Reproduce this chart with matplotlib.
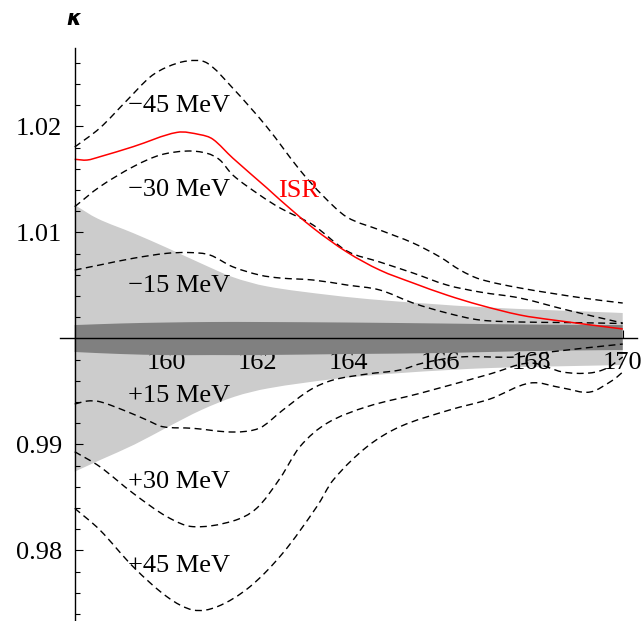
import matplotlib
matplotlib.use("Agg")
import matplotlib.pyplot as plt
from matplotlib.ticker import FixedLocator
from matplotlib.path import Path
from matplotlib.patches import PathPatch

# ---------------- data ----------------
m45_x = [158.0, 158.55, 159.15, 159.65, 160.02, 160.46, 160.90, 161.46, 162.21, 162.93,
         163.44, 163.96, 164.68, 165.41, 166.00, 166.44, 166.87, 167.75, 169.13, 170.0]
m45_y = [1.01805, 1.01984, 1.02248, 1.02465, 1.02559, 1.02616, 1.02597, 1.02361, 1.01993, 1.01588,
         1.01343, 1.01144, 1.01022, 1.00899, 1.00767, 1.00644, 1.00559, 1.00475, 1.00380, 1.00333]

isr_x = [158.0, 158.27, 158.55, 159.28, 160.24, 160.75, 161.03, 161.46, 162.21, 162.50,
         163.22, 163.96, 164.68, 165.41, 166.15, 166.87, 167.75, 168.47, 170.0]
isr_y = [1.01689, 1.01682, 1.01713, 1.01808, 1.01943, 1.01921, 1.01877, 1.01701, 1.01418, 1.01305,
         1.01041, 1.00814, 1.00644, 1.00522, 1.00408, 1.00314, 1.00220, 1.00173, 1.00088]

m30_x = [158.0, 158.55, 159.28, 159.87, 160.46, 160.90, 161.18, 161.46, 162.05, 162.50,
         163.22, 163.96, 164.68, 165.41, 166.15, 166.87, 167.75, 168.78, 170.0]
m30_y = [1.01242, 1.01430, 1.01619, 1.01729, 1.01767, 1.01745, 1.01682, 1.01541, 1.01352, 1.01229,
         1.01069, 1.00824, 1.00720, 1.00616, 1.00503, 1.00437, 1.00380, 1.00267, 1.00144]

m15_x = [158.0, 158.55, 159.28, 160.02, 160.53, 160.96, 161.46, 162.05, 162.50, 163.22,
         163.96, 164.68, 165.41, 166.15, 166.87, 167.75, 168.78, 170.0]
m15_y = [1.00644, 1.00692, 1.00755, 1.00802, 1.00809, 1.00786, 1.00675, 1.00597, 1.00569, 1.00550,
         1.00503, 1.00456, 1.00333, 1.00239, 1.00173, 1.00154, 1.00149, 1.00140]

p15_x = [158.0, 158.27, 158.55, 159.15, 159.58, 159.93, 160.59, 161.46, 162.05, 162.56,
         163.15, 163.66, 164.40, 165.12, 165.63, 166.43, 167.68, 168.40, 170.0]
p15_y = [0.99380, 0.99408, 0.99402, 0.99308, 0.99229, 0.99166, 0.99151, 0.99116, 0.99154, 0.99324,
         0.99512, 0.99607, 0.99663, 0.99701, 0.99767, 0.99824, 0.99824, 0.99871, 0.99946]

p30_x = [158.0, 158.55, 159.28, 160.02, 160.59, 161.46, 161.99, 162.50, 162.93, 163.52,
         164.40, 165.56, 167.09, 167.97, 168.69, 169.28, 169.66, 170.0]
p30_y = [0.98930, 0.98789, 0.98538, 0.98317, 0.98223, 0.98276, 0.98399, 0.98682, 0.98977, 0.99198,
         0.99355, 0.99481, 0.99663, 0.99767, 0.99682, 0.99673, 0.99720, 0.99824]

p45_x = [158.0, 158.55, 159.28, 160.02, 160.59, 161.12, 161.83, 162.56, 163.30, 163.66,
         164.40, 165.12, 166.21, 167.09, 167.97, 168.69, 169.28, 169.79, 170.0]
p45_y = [0.98396, 0.98192, 0.97845, 0.97562, 0.97437, 0.97468, 0.97654, 0.97975, 0.98411, 0.98663,
         0.98977, 0.99166, 0.99324, 0.99427, 0.99578, 0.99531, 0.99493, 0.99607, 0.99682]

light_top_x = [158.0, 158.5, 159.28, 160.03, 160.75, 161.46, 162.21, 163.59, 164.68, 166.87, 170.0]
light_top_y = [1.01258, 1.01130, 1.00993, 1.00852, 1.00710, 1.00578, 1.00490, 1.00408, 1.00361, 1.00295, 1.00239]
light_bot_x = [158.0, 158.59, 159.31, 160.05, 160.77, 161.50, 162.24, 163.68, 165.15, 167.12, 170.0]
light_bot_y = [0.98742, 0.98858, 0.98998, 0.99166, 0.99323, 0.99449, 0.99528, 0.99616, 0.99673, 0.99720, 0.99748]

dark_x = [158, 159, 160, 161, 162, 164, 166, 168, 170]
dark_top = [1.00125, 1.00140, 1.00149, 1.00154, 1.00154, 1.00149, 1.00140, 1.00130, 1.00125]
dark_bot = [0.99871, 0.99852, 0.99842, 0.99842, 0.99842, 0.99852, 0.99861, 0.99880, 0.99890]

x_ticks = [160, 162, 164, 166, 168, 170]
x_ticklabels = ["160", "162", "164", "166", "168", "170"]
x_minor = [158.5 + 0.5 * i for i in range(24)]
y_ticks = [0.98, 0.99, 1.01, 1.02]
y_ticklabels = ["0.98", "0.99", "1.01", "1.02"]
y_minor = [0.974 + 0.002 * i for i in range(27)]

curve_labels = ["\u221245 MeV", "\u221230 MeV", "\u221215 MeV", "+15 MeV", "+30 MeV", "+45 MeV"]


# ---------------- smooth rendering helpers (Hermite -> cubic Bezier path) ----------------
def _slopes(xs, ys):
    n = len(xs)
    m = []
    for i in range(n):
        a = max(i - 1, 0)
        b = min(i + 1, n - 1)
        m.append((ys[b] - ys[a]) / (xs[b] - xs[a]))
    return m


def bezier_segments(xs, ys):
    """Vertices/codes of a smooth curve passing through every (x, y) given."""
    m = _slopes(xs, ys)
    verts, codes = [], []
    for i in range(len(xs) - 1):
        h = xs[i + 1] - xs[i]
        verts += [(xs[i] + h / 3, ys[i] + m[i] * h / 3),
                  (xs[i + 1] - h / 3, ys[i + 1] - m[i + 1] * h / 3),
                  (xs[i + 1], ys[i + 1])]
        codes += [Path.CURVE4] * 3
    return verts, codes


def smooth_line(ax, xs, ys, **kw):
    v, c = bezier_segments(xs, ys)
    path = Path([(xs[0], ys[0])] + v, [Path.MOVETO] + c)
    ax.add_patch(PathPatch(path, fill=False, **kw))


def smooth_band(ax, tx, ty, bx, by, **kw):
    vt, ct = bezier_segments(tx, ty)
    vb, cb = bezier_segments(bx[::-1], by[::-1])
    verts = [(tx[0], ty[0])] + vt + [(bx[-1], by[-1])] + vb + [(tx[0], ty[0])]
    codes = [Path.MOVETO] + ct + [Path.LINETO] + cb + [Path.CLOSEPOLY]
    ax.add_patch(PathPatch(Path(verts, codes), **kw))


# ---------------- figure ----------------
SERIF = "Liberation Serif"
FS = 19

fig = plt.figure(figsize=(6.43, 6.21), dpi=100)
ax = fig.add_axes([0, 0, 1, 1])
ax.set_xlim(156.364, 170.444)
ax.set_ylim(0.97333, 1.03192)
ax.patch.set_alpha(0)

# bands
smooth_band(ax, light_top_x, light_top_y, light_bot_x, light_bot_y,
            facecolor="#cccccc", edgecolor="none", lw=0, zorder=1)
smooth_band(ax, dark_x, dark_top, dark_x, dark_bot,
            facecolor="#808080", edgecolor="none", lw=0, zorder=2)

for xs, ys in [(m45_x, m45_y), (m30_x, m30_y), (m15_x, m15_y),
               (p15_x, p15_y), (p30_x, p30_y), (p45_x, p45_y)]:
    smooth_line(ax, xs, ys, edgecolor="black", lw=1.0, linestyle=(0, (5.0, 3.2)), zorder=3)
smooth_line(ax, isr_x, isr_y, edgecolor="red", lw=1.1, zorder=4)

# curve labels
label_pos = [(159.17, 1.02132), (159.17, 1.01340), (159.17, 1.00440),
             (159.17, 0.99402), (159.17, 0.98588), (159.17, 0.97798)]
for txt, (lx, ly) in zip(curve_labels, label_pos):
    ax.text(lx, ly, txt, family=SERIF, fontsize=FS, ha="left", va="baseline", zorder=5)
ax.text(162.45, 1.01336, "ISR", family=SERIF, fontsize=FS, color="red",
        ha="left", va="baseline", zorder=5)

# axes (Mathematica style, crossing at (158, 1))
for s in ["top", "right"]:
    ax.spines[s].set_visible(False)
ax.spines["left"].set_position(("data", 158))
ax.spines["left"].set_bounds(0.9734, 1.0274)
ax.spines["bottom"].set_position(("data", 1.0))
ax.spines["bottom"].set_bounds(157.68, 170.31)
for s in ["left", "bottom"]:
    ax.spines[s].set_linewidth(1.0)
    ax.spines[s].set_zorder(6)

ax.xaxis.set_major_locator(FixedLocator(x_ticks))
ax.set_xticklabels(x_ticklabels)
ax.xaxis.set_minor_locator(FixedLocator(x_minor))
ax.yaxis.set_major_locator(FixedLocator(y_ticks))
ax.set_yticklabels(y_ticklabels)
ax.yaxis.set_minor_locator(FixedLocator(y_minor))

ax.tick_params(which="both", direction="in", width=0.8, colors="black")
ax.tick_params(which="major", length=6)
ax.tick_params(which="minor", length=3.5)
ax.tick_params(axis="x", which="major", pad=10, labelsize=FS)
ax.tick_params(axis="y", which="major", pad=9, labelsize=FS)
for lab in ax.get_xticklabels() + ax.get_yticklabels():
    lab.set_family(SERIF)
    lab.set_zorder(7)

ax.text(157.97, 1.03012, "\u03ba", family="DejaVu Sans", fontsize=15,
        fontweight="bold", fontstyle="italic", ha="center", va="center")

fig.savefig("out.png", dpi=100)
